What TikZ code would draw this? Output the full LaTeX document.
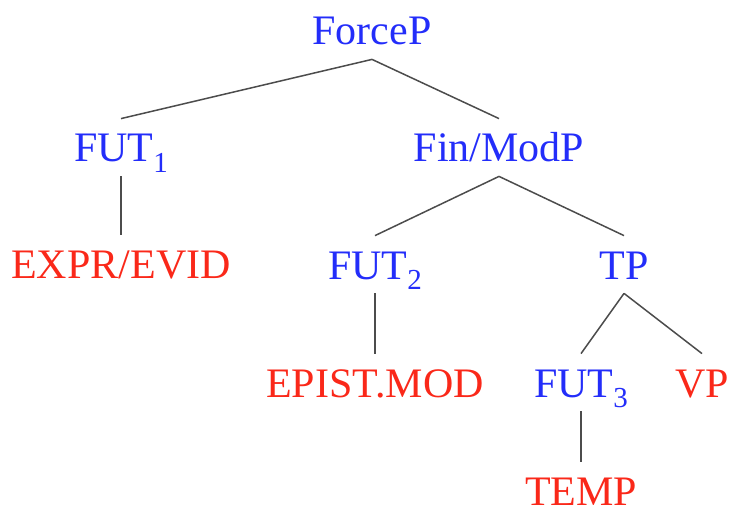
\documentclass[tikz,border=0pt]{standalone}
\usepackage{fontspec}
\setmainfont{Liberation Serif}
\usepackage{xcolor}
\usepackage{tikz}
\usetikzlibrary{positioning}

\definecolor{catblue}{RGB}{35,45,250}
\definecolor{featred}{RGB}{250,40,25}
\newcommand{\fsub}[1]{\raisebox{-0.26em}{\fontsize{14.5}{14.5}\selectfont #1}}

\begin{document}
\begin{tikzpicture}[
    x=0.5pt, y=-0.5pt,
    word/.style={inner sep=0pt, text height=21.5pt, text depth=7pt, anchor=base, font=\fontsize{21}{25}\selectfont},
    cat/.style={word, text=catblue},
    feat/.style={word, text=featred},
    % Edge style
    branch/.style={draw=black!70, line width=0.75pt},
    ]
    \useasboundingbox (0,0) rectangle (731,513);

    % Top of the tree
    \node[cat] (forcep) at (372,45) {ForceP};
    \node[cat] (fut1) at (121,162) {FUT\fsub{1}};
    \node[cat] (finmod) at (499,162) {Fin/ModP};

    % Second level
    \node[feat] (expr) at (121,278) {EXPR/EVID};
    \node[cat] (fut2) at (375,279) {FUT\fsub{2}};
    \node[cat] (tp) at (624,279) {TP};

    % Third level
    \node[feat] (epist) at (375,397) {EPIST.MOD};
    \node[cat] (fut3) at (581,397) {FUT\fsub{3}};
    \node[feat] (vp) at (702,397) {VP};

    % Bottom
    \node[feat] (temp) at (581,505) {TEMP};

    % Branches
    \draw[branch] (forcep.south) -- (fut1.north);
    \draw[branch] (forcep.south) -- (finmod.north);
    \draw[branch] (fut1.south) -- (expr.north);
    \draw[branch] (finmod.south) -- (fut2.north);
    \draw[branch] (finmod.south) -- (tp.north);
    \draw[branch] (fut2.south) -- (epist.north);
    \draw[branch] (tp.south) -- (fut3.north);
    \draw[branch] (tp.south) -- (vp.north);
    \draw[branch] (fut3.south) -- (temp.north);

\end{tikzpicture}
\end{document}
